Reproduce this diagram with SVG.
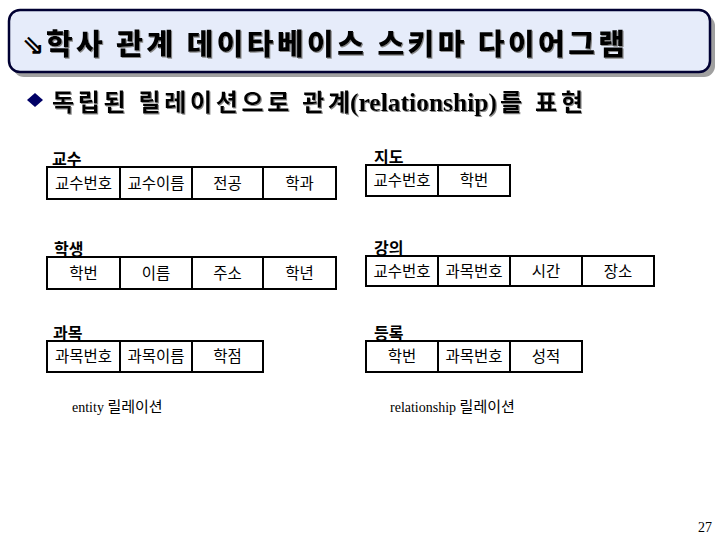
<svg xmlns="http://www.w3.org/2000/svg" width="720" height="540" viewBox="0 0 720 540">
<defs>
<filter id="sh" x="-5%" y="-20%" width="110%" height="150%"><feDropShadow dx="1" dy="1" stdDeviation="0.3" flood-color="#888"/></filter>
</defs>
<style>
.kr{font-family:"Noto Sans CJK KR","Noto Sans",sans-serif}
.cell{fill:#fff;stroke:#000;stroke-width:2}
.ct{font-family:"Noto Sans CJK KR",sans-serif;font-size:15.5px;text-anchor:middle;fill:#000}
.lbl{font-family:"Noto Sans CJK KR",sans-serif;font-size:16px;font-weight:bold;fill:#000;text-decoration:underline}
.note{font-family:"Liberation Serif","Noto Sans CJK KR",serif;font-size:14px;fill:#000}
.serif{font-family:"Liberation Serif",serif}
</style>
<rect width="720" height="540" fill="#fff"/>
<g id="title">
<rect x="13" y="15" width="702" height="62" rx="11" fill="#a0a0a0"/>
<rect x="9" y="10" width="701" height="62" rx="11" fill="#e6ecfa" stroke="#000033" stroke-width="2.5"/>
<text x="22" y="54" style="font-family:'DejaVu Sans',sans-serif" font-size="27" font-weight="bold" fill="#000">⇘</text>
<text x="46" y="55" class="kr" font-size="29" font-weight="900" fill="#000" filter="url(#sh)" textLength="579" lengthAdjust="spacing">학사 관계 데이타베이스 스키마 다이어그램</text>
</g>
<g id="subtitle">
<polygon points="35,93 43,100 35,107 27,100" fill="#000066"/>
<text y="111" font-size="24" font-weight="bold" fill="#000" filter="url(#sh)"><tspan x="52" class="kr" textLength="298" lengthAdjust="spacing">독립된 릴레이션으로 관계</tspan><tspan x="350" class="serif" font-size="25" textLength="147" lengthAdjust="spacingAndGlyphs">(relationship)</tspan><tspan x="500" class="kr" textLength="83" lengthAdjust="spacing">를 표현</tspan></text>
</g>
<g id="professor">
<text x="52" y="165" class="lbl">교수</text>
<rect class="cell" x="47" y="167" width="73" height="32"/><rect class="cell" x="120" y="167" width="72" height="32"/><rect class="cell" x="192" y="167" width="71" height="32"/><rect class="cell" x="263" y="167" width="73" height="32"/>
<text class="ct" x="83.5" y="189">교수번호</text><text class="ct" x="156" y="189">교수이름</text><text class="ct" x="227.5" y="189">전공</text><text class="ct" x="299.5" y="189">학과</text>
</g>
<g id="student">
<text x="54" y="255" class="lbl">학생</text>
<rect class="cell" x="47" y="257" width="73" height="32"/><rect class="cell" x="120" y="257" width="72" height="32"/><rect class="cell" x="192" y="257" width="71" height="32"/><rect class="cell" x="263" y="257" width="73" height="32"/>
<text class="ct" x="83.5" y="279">학번</text><text class="ct" x="156" y="279">이름</text><text class="ct" x="227.5" y="279">주소</text><text class="ct" x="299.5" y="279">학년</text>
</g>
<g id="course">
<text x="53" y="339" class="lbl">과목</text>
<rect class="cell" x="47" y="341" width="73" height="31"/><rect class="cell" x="120" y="341" width="72" height="31"/><rect class="cell" x="192" y="341" width="71" height="31"/>
<text class="ct" x="83.5" y="362">과목번호</text><text class="ct" x="156" y="362">과목이름</text><text class="ct" x="227.5" y="362">학점</text>
</g>
<g id="advise">
<text x="374" y="163" class="lbl">지도</text>
<rect class="cell" x="366" y="165" width="72" height="31"/><rect class="cell" x="438" y="165" width="72" height="31"/>
<text class="ct" x="402" y="186">교수번호</text><text class="ct" x="474" y="186">학번</text>
</g>
<g id="lecture">
<text x="374" y="254" class="lbl">강의</text>
<rect class="cell" x="366" y="256" width="72" height="30"/><rect class="cell" x="438" y="256" width="72" height="30"/><rect class="cell" x="510" y="256" width="72" height="30"/><rect class="cell" x="582" y="256" width="72" height="30"/>
<text class="ct" x="402" y="277">교수번호</text><text class="ct" x="474" y="277">과목번호</text><text class="ct" x="546" y="277">시간</text><text class="ct" x="618" y="277">장소</text>
</g>
<g id="enroll">
<text x="374" y="339" class="lbl">등록</text>
<rect class="cell" x="366" y="341" width="72" height="31"/><rect class="cell" x="438" y="341" width="72" height="31"/><rect class="cell" x="510" y="341" width="72" height="31"/>
<text class="ct" x="402" y="362">학번</text><text class="ct" x="474" y="362">과목번호</text><text class="ct" x="546" y="362">성적</text>
</g>
<g id="notes">
<text x="72" y="412" class="note">entity <tspan style="font-family:'Noto Sans CJK KR',sans-serif" font-size="15">릴레이션</tspan></text>
<text x="390" y="412" class="note">relationship <tspan style="font-family:'Noto Sans CJK KR',sans-serif" font-size="15">릴레이션</tspan></text>
<text x="698" y="532" class="note" font-size="13">27</text>
</g>
</svg>
